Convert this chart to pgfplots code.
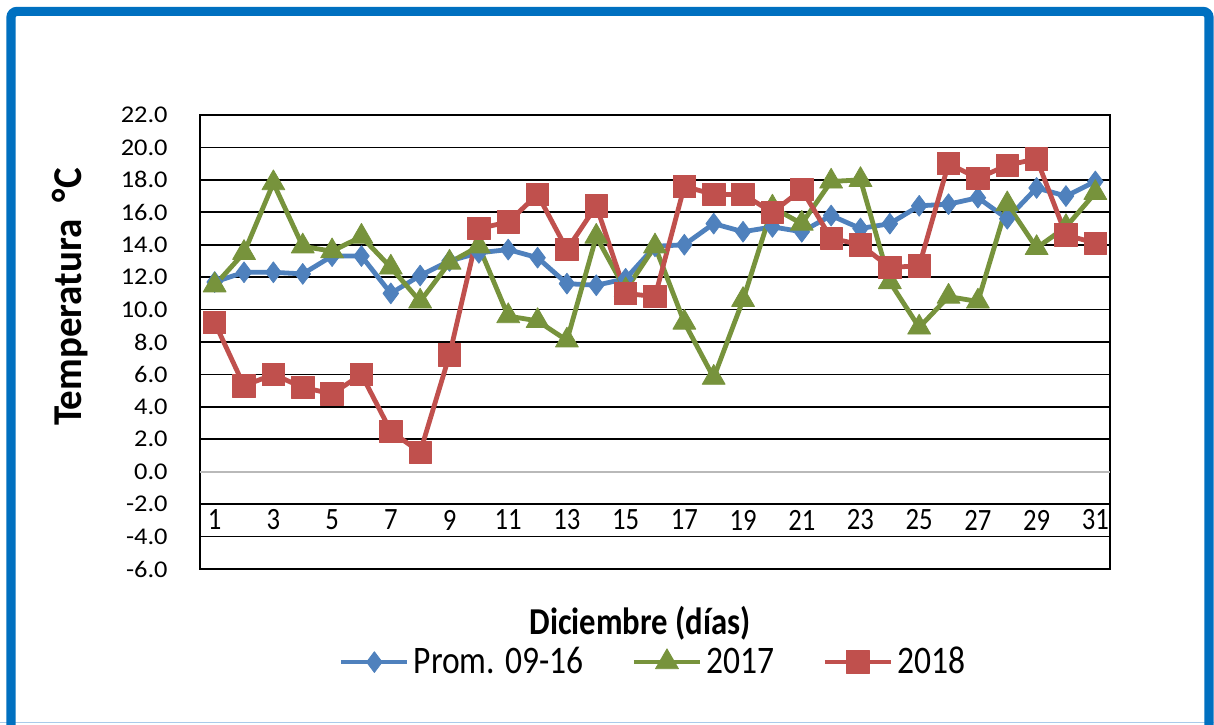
\documentclass[border=0pt]{standalone}
\usepackage{fontspec}
\setmainfont{Carlito}
\newfontfamily\condfont{Carlito}[FakeStretch=0.86]
\newfontfamily\ylabfont{Carlito}[FakeStretch=0.95]
\newfontfamily\tickfont{Carlito}[FakeStretch=1.1]
\usepackage{pgfplots}
\pgfplotsset{compat=1.18}
\usepackage{pgfplotstable}
\definecolor{cblue}{HTML}{4F81BD}
\definecolor{cgreen}{HTML}{77933C}
\definecolor{cred}{HTML}{C0504D}
\definecolor{frameblue}{HTML}{0070C0}
\definecolor{lightframe}{HTML}{A9CBEA}
\pgfplotstableread{
day prom y2017 y2018
1 11.7 11.5 9.2
2 12.3 13.5 5.3
3 12.3 17.8 6.0
4 12.2 13.9 5.2
5 13.3 13.6 4.8
6 13.3 14.5 6.0
7 11.0 12.6 2.5
8 12.1 10.5 1.2
9 13.0 12.9 7.2
10 13.5 13.9 15.0
11 13.7 9.6 15.4
12 13.2 9.3 17.1
13 11.6 8.1 13.7
14 11.5 14.5 16.4
15 11.9 11.2 11.0
16 13.9 13.9 10.8
17 14.0 9.2 17.6
18 15.3 5.8 17.1
19 14.8 10.6 17.1
20 15.1 16.3 16.0
21 14.8 15.3 17.4
22 15.8 17.9 14.4
23 15.0 18.0 14.0
24 15.3 11.7 12.6
25 16.4 8.9 12.7
26 16.5 10.8 19.0
27 16.9 10.5 18.1
28 15.6 16.5 18.9
29 17.5 13.8 19.3
30 17.0 15.1 14.6
31 17.9 17.2 14.1
}\datatable
\begin{document}
\begin{tikzpicture}
\useasboundingbox (-100pt,-77.5pt) rectangle (507pt,284.5pt);
\fill[white] (-100pt,-77.5pt) rectangle (507pt,284.5pt);
\draw[lightframe, line width=0.6pt] (-100pt,-76.8pt) -- (507pt,-76.8pt);
\draw[frameblue, line width=4.6pt, rounded corners=3pt] (-94.5pt,-95pt) rectangle (504.5pt,278.8pt);
\begin{axis}[
  scale only axis,
  width=455pt, height=227pt,
  at={(0pt,0pt)}, anchor=south west,
  xmin=0.5, xmax=31.5,
  ymin=-6, ymax=22,
  xtick={1,3,...,31},
  ytick={-6,-4,-2,2,4,6,8,10,12,14,16,18,20,22},
  extra y ticks={0},
  extra y tick style={grid=major, major grid style={gray!55, line width=0.8pt}},
  ymajorgrids=true,
  major grid style={black, line width=0.9pt},
  major tick length=0pt,
  axis line style={black, line width=0.9pt},
  /pgf/number format/assume math mode=true,
  yticklabel={\pgfmathprintnumber[fixed, fixed zerofill, precision=1]{\tick}},
  yticklabel style={font=\tickfont\fontsize{12}{12}\selectfont, anchor=east, inner sep=0pt, xshift=-16pt},
  xticklabel style={font=\condfont\fontsize{15.5}{15.5}\selectfont, anchor=center, inner sep=0pt, yshift=24.5pt},
  xlabel={\textbf{Diciembre (días)}},
  xlabel style={font=\condfont\fontsize{19}{19}\selectfont, at={(axis description cs:0.4835,-0.119)}, anchor=center},
  ylabel={\textbf{Temperatura \ \raisebox{0.5pt}{°}C}},
  ylabel style={font=\ylabfont\fontsize{20.5}{20.5}\selectfont, at={(axis description cs:-0.143,0.599)}, anchor=center, rotate=0},
  legend columns=3,
  legend style={draw=none, fill=none, font=\condfont\fontsize{19.5}{19.5}\selectfont,
    at={(axis description cs:0.499,-0.205)}, anchor=center,
    /tikz/every even column/.append style={column sep=22pt},
    inner sep=0pt},
  legend image code/.code={\draw[mark repeat=2, mark phase=2, #1] plot coordinates {(0pt,0pt) (16.5pt,0pt) (33pt,0pt)};},
  every axis plot/.append style={line width=2.4pt, line join=round},
  clip=false,
]
\addplot[cblue, mark=diamond*, mark size=5.2pt, mark options={solid, line width=0.4pt, fill=cblue}] table[x=day, y=prom] {\datatable};
\addlegendentry{Prom. 09-16}
\addplot[cgreen, mark=triangle*, mark size=6.6pt, mark options={solid, line width=0.4pt, fill=cgreen}] table[x=day, y=y2017] {\datatable};
\addlegendentry{2017}
\addplot[cred, mark=square*, mark size=5.6pt, mark options={solid, line width=0.4pt, fill=cred}] table[x=day, y=y2018] {\datatable};
\addlegendentry{2018}
\end{axis}
\end{tikzpicture}
\end{document}
